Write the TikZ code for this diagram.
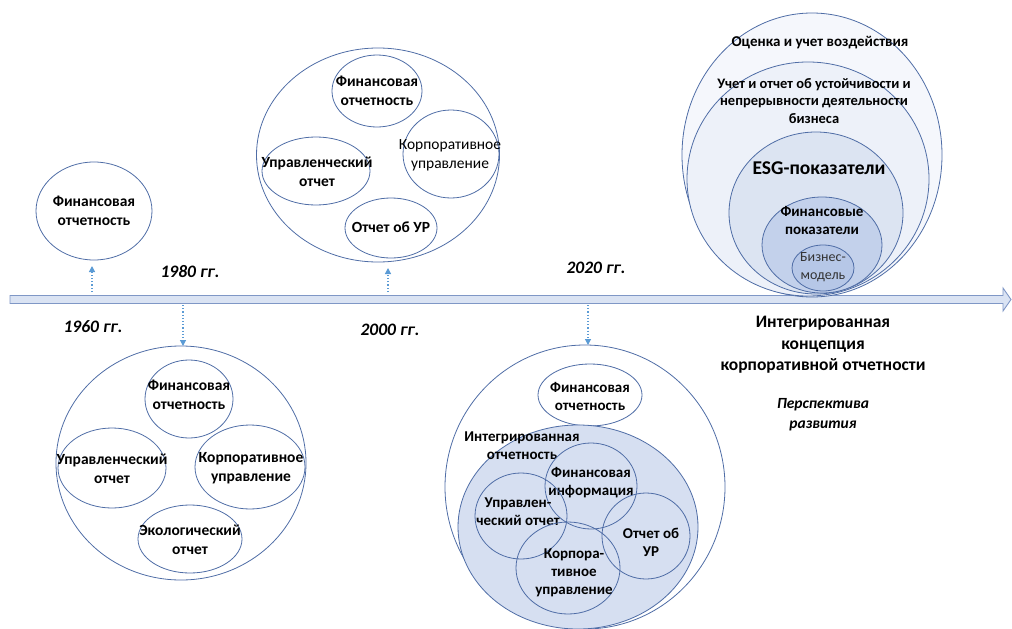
\documentclass[tikz,border=0pt]{standalone}
\usepackage{fontspec}
\setmainfont{Carlito}
\usetikzlibrary{shapes.geometric,arrows.meta}
\definecolor{lineblue}{HTML}{4F6DA6}
\definecolor{dotblue}{HTML}{5B9BD5}
\definecolor{axisfill}{HTML}{DAE3F3}
\definecolor{axisline}{HTML}{7F97C6}
\definecolor{fillA}{HTML}{F5F7FC}
\definecolor{fillB}{HTML}{EDF1F9}
\definecolor{fillC}{HTML}{DCE4F2}
\definecolor{fillD}{HTML}{C3D1EB}
\definecolor{fillE}{HTML}{B6C7E7}
\definecolor{fillI}{HTML}{D6DFF1}
\begin{document}
\begin{tikzpicture}[x=1pt,y=-1pt,
  ov/.style 2 args={ellipse, draw=lineblue, line width=0.8pt, minimum width=#1, minimum height=#2, inner sep=0pt},
  tb/.style={font=\bfseries\fontsize{15.5}{19}\selectfont, align=center, inner sep=0pt},
  tbs/.style={font=\bfseries\fontsize{15}{18}\selectfont, align=center, inner sep=0pt},
  tr/.style={font=\fontsize{15.5}{19}\selectfont, align=center, inner sep=0pt},
  yr/.style={font=\bfseries\itshape\fontsize{17.5}{20}\selectfont, inner sep=0pt},
  dotarrow/.style={dotblue, line width=1.2pt, dotted, -{Triangle[length=6pt,width=6pt]}}
]
\useasboundingbox (0,0) rectangle (1012,629);

% ---------- time axis ----------
\path[fill=axisfill, draw=axisline, line width=0.9pt]
  (10,295.5) -- (1003,295.5) -- (1003,288) -- (1011,299.5) -- (1003,311) -- (1003,303.5) -- (10,303.5) -- cycle;

% ---------- year labels ----------
\node[yr] (y1960) at (93,327) {1960 гг.};
\node[yr] (y1980) at (190,272) {1980 гг.};
\node[yr] (y2000) at (390,330) {2000 гг.};
\node[yr] (y2020) at (596,268) {2020 гг.};

% ---------- 1960: financial statements ----------
\node[ov={116pt}{98pt}] (e60) at (94,211) {};
\node[tb] (t60) at (e60.center) {Финансовая\\отчетность};

% ---------- 1980 ----------
\node[ov={250pt}{234pt}] (c80) at (181,463) {};
\node[ov={88pt}{78pt}] (e80a) at (189,399) {};
\node[tb] at (189,395) {Финансовая\\отчетность};
\node[ov={108pt}{80pt}] (e80b) at (112,468) {};
\node[tb] at (112,469) {Управленческий\\отчет};
\node[ov={110pt}{84pt}] (e80c) at (250,467) {};
\node[tb] at (251,468) {Корпоративное\\управление};
\node[ov={104pt}{68pt}] (e80d) at (190,539) {};
\node[tb] at (190,540) {Экологический\\отчет};

% ---------- 2000 ----------
\node[ov={243pt}{214pt}] (c00) at (378,155) {};
\node[ov={90pt}{72pt}] (e00a) at (377,91) {};
\node[tb] at (377,91) {Финансовая\\отчетность};
\node[ov={108pt}{68pt}] (e00b) at (316,171) {};
\node[tb] at (317,172) {Управленческий\\отчет};
\node[ov={96pt}{88pt}] (e00c) at (451,154) {};
\node[tr] at (450,155) {Корпоративное\\управление};
\node[ov={92pt}{60pt}] (e00d) at (391,228) {};
\node[tb] at (391,227) {Отчет об УР};

% ---------- 2020 ----------
\node[ov={280pt}{284pt}, fill=white] (c20) at (585,487) {};
\node[ov={104pt}{62pt}, fill=white] (e20a) at (590,395) {};
\node[tbs] at (590,396) {Финансовая\\отчетность};
\node[ov={240pt}{204pt}, fill=fillI] (c20i) at (578,527) {};
\node[tbs] (tint) at (522,446) {Интегрированная\\отчетность};
\node[ov={92pt}{86pt}] (e20b) at (591,486) {};
\node[tbs] at (591,483) {Финансовая\\информация};
\node[ov={92pt}{86pt}] (e20c) at (521,516) {};
\node[tbs] at (518,512) {Управлен-\\ческий отчет};
\node[ov={88pt}{86pt}] (e20d) at (646,536) {};
\node[tbs] at (651,542) {Отчет об\\УР};
\node[ov={104pt}{92pt}] (e20e) at (568,568) {};
\node[tbs] at (574,573) {Корпора-\\тивное\\управление};

% ---------- perspective ----------
\node[ov={260pt}{284pt}, fill=fillA] (p1) at (812,155) {};
\node[ov={242pt}{234pt}, fill=fillB] (p2) at (808,179) {};
\node[ov={174pt}{162pt}, fill=fillC] (p3) at (816,213) {};
\node[ov={120pt}{96pt}, fill=fillD] (p4) at (822,245) {};
\node[ov={62pt}{46pt}, fill=fillE] (p5) at (823,268) {};
\node[tbs] (tp1) at (820,43) {Оценка и учет воздействия};
\node[font=\bfseries\fontsize{14.5}{17.5}\selectfont, align=center, inner sep=0pt] (tp2) at (814,101) {Учет и отчет об устойчивости и\\непрерывности деятельности\\бизнеса};
\node[font=\bfseries\fontsize{19.5}{22}\selectfont, inner sep=0pt] (tp3) at (819,168) {ESG-показатели};
\node[tbs] (tp4) at (822,220) {Финансовые\\показатели};
\node[font=\fontsize{14}{18}\selectfont, text=black!80, align=center, inner sep=0pt] (tp5) at (823,267) {Бизнес-\\модель};

\node[font=\bfseries\fontsize{17.5}{21.5}\selectfont, align=center, inner sep=0pt] (tic) at (823,345) {Интегрированная\\концепция\\корпоративной отчетности};
\node[font=\bfseries\itshape\fontsize{15.5}{20}\selectfont, align=center, inner sep=0pt] (tper) at (823,415) {Перспектива\\развития};

% ---------- dotted arrows ----------
\coordinate (s1) at (92,292);  \coordinate (d1) at (92,266);
\coordinate (s2) at (183,305); \coordinate (d2) at (183,346);
\coordinate (s3) at (388,292); \coordinate (d3) at (388,268);
\coordinate (s4) at (588,305); \coordinate (d4) at (588,345);
\draw[dotarrow] (s1) -- (d1);
\draw[dotarrow] (s2) -- (d2);
\draw[dotarrow] (s3) -- (d3);
\draw[dotarrow] (s4) -- (d4);
\end{tikzpicture}
\end{document}
